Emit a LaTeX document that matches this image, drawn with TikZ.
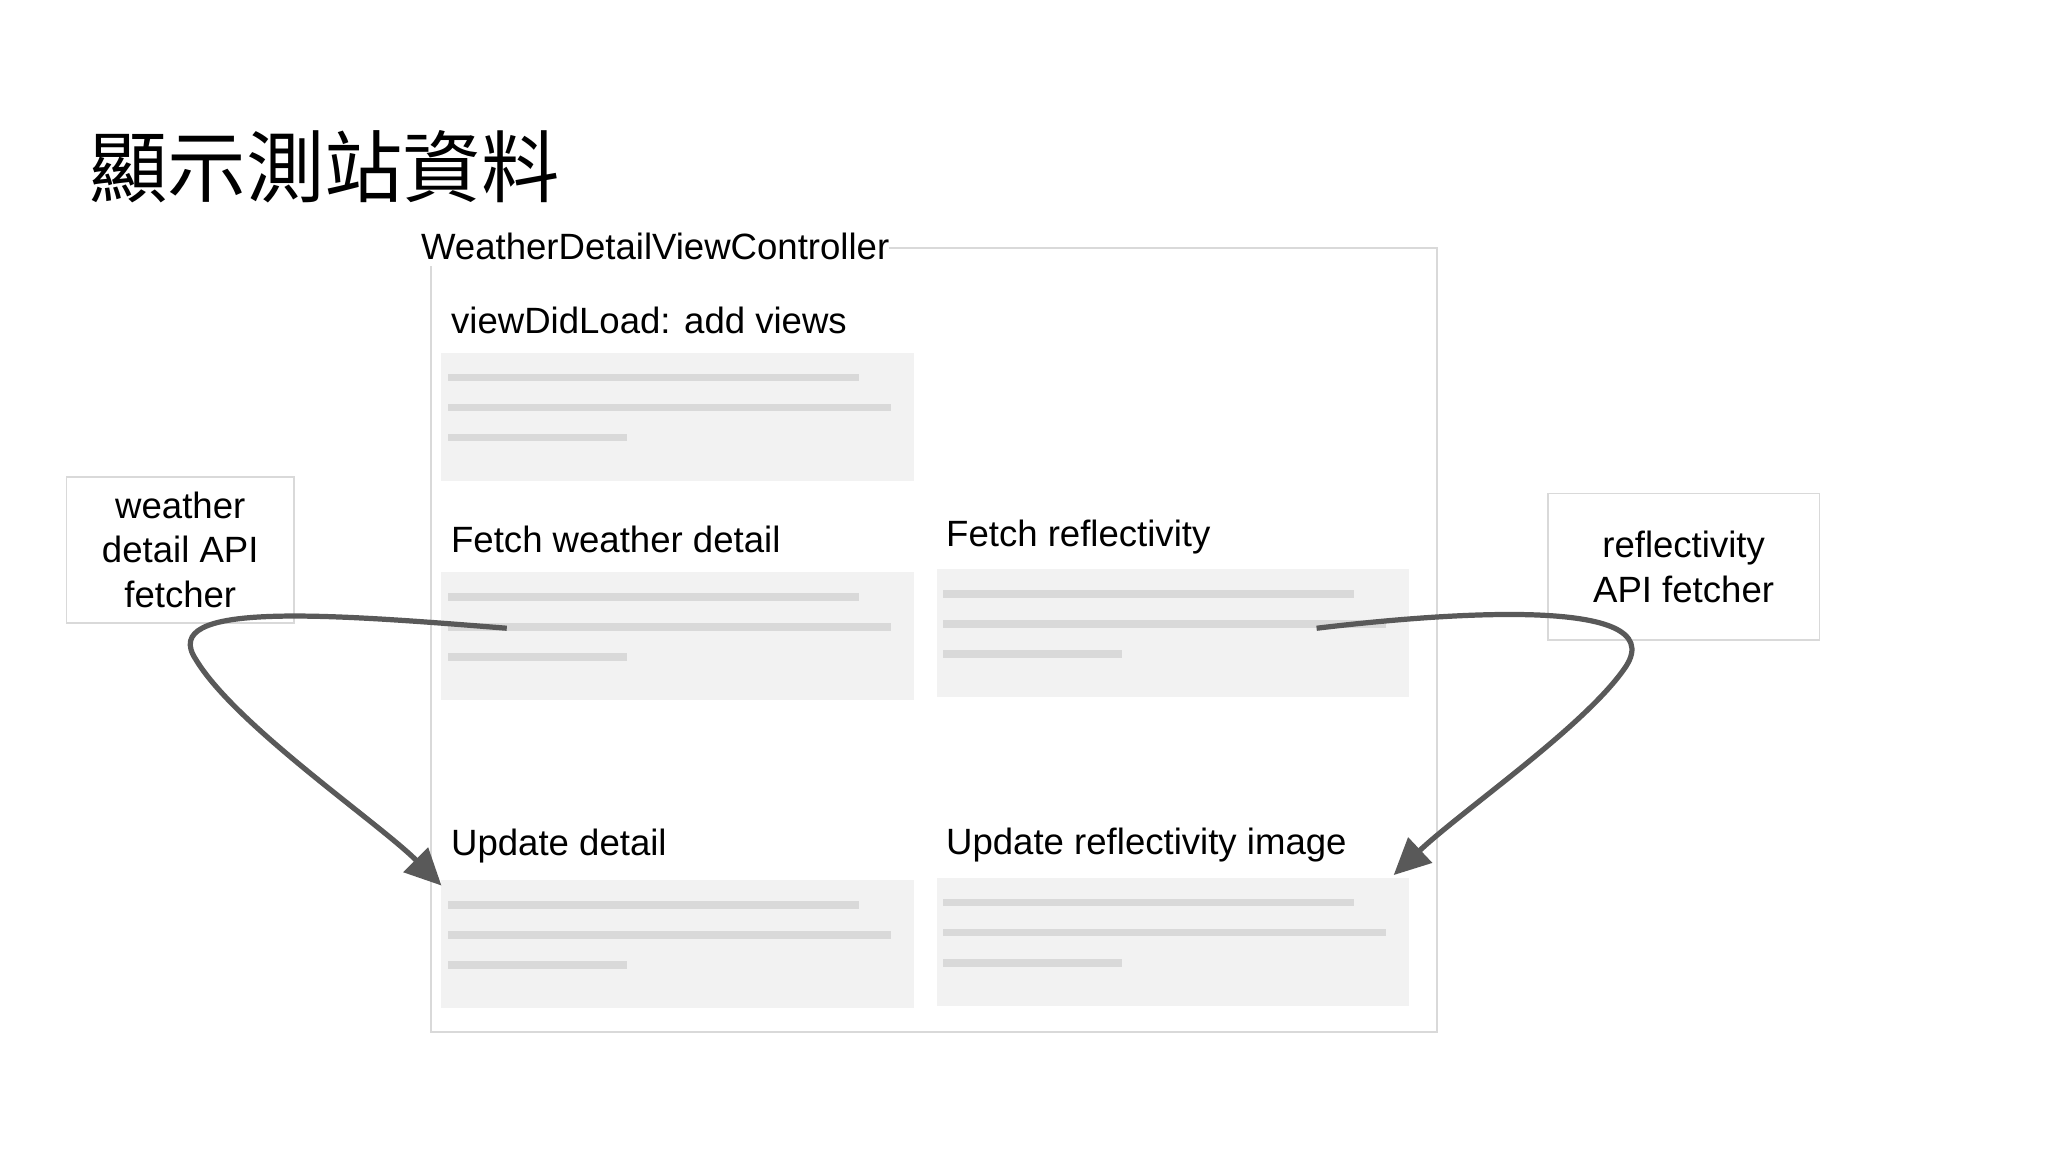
\documentclass[tikz,border=0pt]{standalone}
\usepackage{fontspec}
\setmainfont{Liberation Sans}
\newfontfamily\cjk{Noto Sans CJK TC}
\usetikzlibrary{arrows.meta}
\begin{document}
\begin{tikzpicture}[x=0.5pt,y=-0.5pt,
  txt/.style={font=\fontsize{14}{16}\selectfont, inner sep=0pt, anchor=west},
  panel/.style={fill=black!5, draw=none},
  bar/.style={draw=black!15, line width=3pt},
  fbox/.style={draw=black!15, line width=0.6pt, align=center, font=\fontsize{14}{17}\selectfont, inner sep=0pt},
  arr/.style={draw=black!65, line width=2pt, -{Triangle[length=14pt,width=13pt]}}]
\useasboundingbox (0,0) rectangle (1568,882);
\node[anchor=west, inner sep=0pt, font=\cjk\fontsize{30}{32}\selectfont] (title) at (68,128) {顯示測站資料};
\draw[draw=black!15, line width=0.8pt] (330,190) rectangle (1100,790);
\node[txt, fill=white, inner ysep=2pt] (vc) at (322,189) {WeatherDetailViewController};
\node[txt] (l0) at (345,245) {viewDidLoad: add views};
\node[txt] (l1) at (345,413) {Fetch weather detail};
\node[txt] (l2) at (724,411) {Fetch reflectivity};
\node[txt] (l3) at (345,648) {Update detail};
\node[txt] (l4) at (724,647) {Update reflectivity image};
\foreach \x/\y/\n in {338/270/p0, 338/438/p1, 717/436/p2, 338/674/p3, 717/672/p4}{
  \fill[panel] (\x,\y) rectangle ++(362,98);
  \draw[bar] (\x+5,\y+19) -- ++(315,0);
  \draw[bar] (\x+5,\y+42) -- ++(339,0);
  \draw[bar] (\x+5,\y+65) -- ++(137,0);
}
\node[fbox, minimum width=87pt, minimum height=56pt] (wf) at (138,421) {weather\\detail API\\fetcher};
\node[fbox, minimum width=104pt, minimum height=56pt] (rf) at (1289,434) {reflectivity\\API fetcher};
\coordinate (s1) at (388,481);
\coordinate (e1) at (338,678);
\coordinate (s2) at (1008,481);
\coordinate (e2) at (1067,670);
\draw[arr] (s1) .. controls (250,470) and (120,460) .. (150,505) .. controls (180,555) and (290,630) .. (e1);
\draw[arr] (s2) .. controls (1100,470) and (1280,455) .. (1245,510) .. controls (1215,555) and (1120,620) .. (e2);
\end{tikzpicture}
\end{document}
